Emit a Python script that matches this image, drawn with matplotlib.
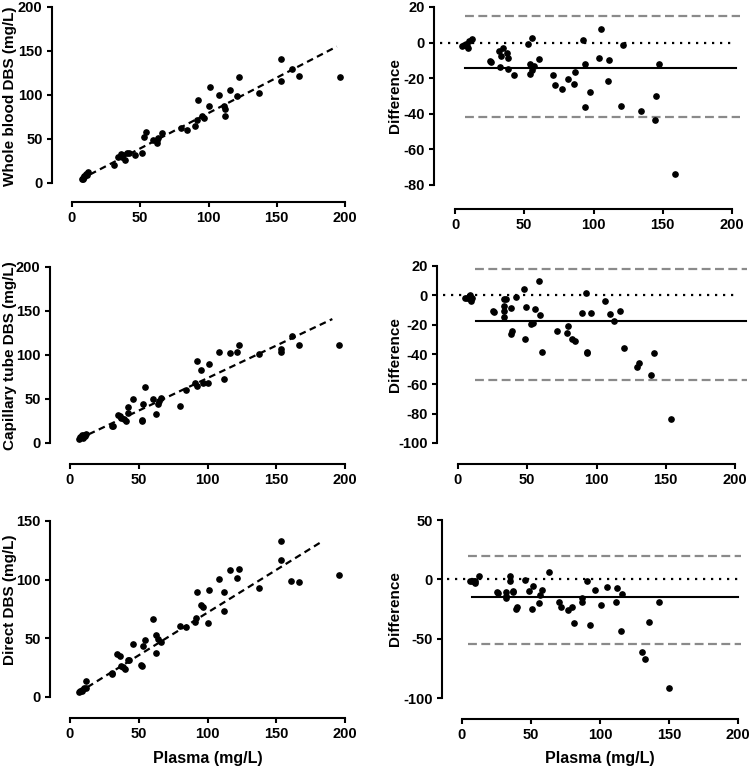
import matplotlib
matplotlib.use('Agg')
import matplotlib.pyplot as plt
import numpy as np

plt.rcParams['font.family'] = ['Liberation Sans', 'DejaVu Sans']
plt.rcParams['font.weight'] = 'bold'
plt.rcParams['axes.unicode_minus'] = False

# ---- row 1: whole blood DBS ----
wb_x = [7, 8, 9, 10, 11, 12, 9, 8, 31, 34, 35.6, 36.4, 37.6, 39, 40, 42, 46, 51, 53, 54.5,
        59.6, 62, 62.5, 63, 66, 80, 84, 90.4, 91.3, 92, 95, 96.7, 100, 101.3, 108, 111, 112,
        112.3, 115.8, 121, 122, 137, 153, 153.4, 161, 166, 196]
wb_y = [5, 6, 8, 10, 9, 13, 7, 5, 20, 29.5, 32.6, 29.5, 31.4, 25.8, 34, 34, 32, 34, 52.6, 58,
        49, 48.5, 45.5, 51, 57, 62.5, 60.6, 64.8, 72, 94, 75.8, 74, 88, 109, 100, 87, 83.7,
        76, 106, 98.5, 121, 102, 141, 115.5, 130, 122, 121]
wb_fit = (6, 194, 0.804, -0.9)  # x start, x end, slope, intercept

wb_mean = [5.3, 6.7, 7.7, 8.4, 9.1, 10.1, 12, 25.2, 26, 31.7, 32.2, 33.2, 34.9, 37.3, 38, 38.5,
           42.5, 52.9, 53.8, 54, 55.8, 55.3, 57.2, 61, 70.9, 72.1, 77.4, 81.3, 85.6, 86.8, 92.5,
           93.8, 94.2, 97.8, 103.8, 105.3, 110.3, 111, 119.5, 121.6, 134, 144.2, 145.4, 147, 158.7]
wb_diff = [-1.9, -1.5, -0.9, -1.9, -3.2, 1.1, 1.9, -10.3, -10.9, -4.5, -13.9, -7.5, -2.8, -6,
           -8.8, -14.8, -18, -0.9, -17.6, -12, 2.8, -15.4, -13.1, -9.2, -18.4, -23.8, -25.8,
           -20.6, -23, -16.7, 1.7, -12.2, -36, -27.9, -8.6, 7.5, -21.7, -9.9, -35.6, -1.5,
           -38.2, -43.6, -30.1, -12.2, -74]
wb_bias, wb_upper, wb_lower = -14.0, 15.0, -41.8

# ---- row 2: capillary tube DBS ----
ct_x = [6.3, 7.5, 9, 10, 11, 11.9, 9.5, 30.3, 31.3, 35, 36.2, 37.4, 39, 40.5, 42.2, 42.5, 45.9,
        52, 52, 53.2, 54.6, 60.4, 62.9, 63.8, 64.8, 66.3, 80.3, 84.7, 90.8, 92, 92, 95.1, 96.8,
        100, 101.2, 108.3, 112.1, 116, 121.1, 122.6, 137.4, 153.2, 153.4, 161.4, 166.3, 195.9]
ct_y = [4.5, 6.4, 8.7, 9.4, 7.9, 9.8, 5.7, 19.6, 18.9, 32, 31, 28.3, 27.5, 25.3, 34, 40.4, 49.8,
        26.4, 24.5, 44.5, 63.4, 49.8, 32.8, 44.5, 47.2, 51.7, 41.5, 60.4, 67.9, 65.3, 93.2, 83,
        67.9, 68.7, 89.4, 103.4, 73.2, 102.6, 103, 111.3, 101.1, 106.4, 103.8, 121.1, 111.3, 111.7]
ct_fit = (6.3, 190.8, 0.739, -0.15)

ct_mean = [5.3, 6.7, 8, 8.7, 9.6, 10.4, 8.9, 25.3, 25.8, 33, 33.3, 33.5, 33.3, 34.9, 38.1, 38.6,
           39.3, 41.7, 48, 48.2, 49.4, 53, 54.2, 55.4, 59.3, 58.8, 61, 71.8, 78.6, 79.5, 82, 84.3,
           89.2, 92.5, 93, 93, 95.9, 105.8, 109.4, 112.8, 117.1, 119.5, 128.9, 130.6, 139, 141.2, 154]
ct_diff = [-1.5, -1.9, -0.7, -2.5, -3.6, -1.9, 0.4, -10.3, -11.4, -2.6, -6.9, -10.3, -14.4, -2.6,
           -8.3, -26.4, -23.9, -0.7, 4.4, -29.8, -7.6, -19.6, -18.5, -9.3, -13.1, 9.5, -38, -24.3,
           -25.6, -21, -29.4, -30.8, -11.6, 2, -38, -39.1, -11.6, -4, -12.6, -17.1, -10.3, -35.7,
           -48.8, -46.1, -53.8, -39.1, -83.9]
ct_bias, ct_upper, ct_lower = -17.0, 18.2, -57.6

# ---- row 3: direct DBS ----
dd_x = [6.3, 7.5, 8.5, 10, 11.4, 11.9, 9, 30.3, 30.8, 34.2, 36.2, 37.4, 38.6, 40, 42.2, 43, 45.9,
        51.5, 52, 53.2, 54.6, 60, 62.9, 62.9, 63.8, 66.3, 80.3, 84.7, 90.8, 91.5, 92, 95.1, 96.8,
        100, 101.2, 108.3, 111.9, 112.1, 116, 121.1, 122.6, 137.4, 153.2, 153.4, 160.9, 166.3, 195.9]
dd_y = [4.3, 5.1, 6.2, 7.4, 7.7, 13.3, 5.5, 19.6, 20.4, 36.6, 34.6, 26.1, 25.5, 23.8, 31.8, 31.2,
        44.8, 27.5, 26.1, 43.1, 48.2, 66.1, 37.4, 53, 49.3, 46.5, 60.7, 59.5, 63.8, 67.2, 89.3,
        78.8, 77.1, 62.9, 91.6, 100.9, 89.6, 73.4, 108.3, 101.8, 108.9, 93, 133, 116.8, 98.7,
        98.4, 103.8]
dd_fit = (5.8, 184.2, 0.7276, -0.82)

dd_mean = [6, 7.2, 8.4, 9.6, 9.2, 12.5, 25.3, 25.8, 31.8, 32, 32, 34.9, 34.9, 36.6, 37.3, 39,
           39.8, 45.5, 48.2, 50.6, 51.3, 55.9, 56.6, 58.3, 63.1, 70.6, 71.8, 76.6, 80, 81.4, 87,
           87.2, 90.4, 93, 96.4, 101, 104.8, 111.8, 112.3, 115.2, 115.7, 130.1, 132.3, 135.2,
           143.1, 149.9]
dd_diff = [-1.2, -1.5, -1.2, -2.9, -1.2, 2.7, -10.5, -11.1, -10.5, -14.1, -16.1, 2.7, -1.5,
           -10.3, -9.7, -25.4, -23.2, -0.4, -10, -24.6, -5.7, -19.6, -13.4, -9.2, 6.6, -19,
           -23.5, -26, -23.2, -36.4, -15.6, -19.3, -1.5, -38.1, -9.2, -21.6, -6.4, -18.8, -7,
           -43.5, -12.6, -61.2, -66.8, -35.8, -19.3, -91.3]
dd_bias, dd_upper, dd_lower = -15.3, 19.8, -54.1

ylabels = ['Whole blood DBS (mg/L)', 'Capillary tube DBS (mg/L)', 'Direct DBS (mg/L)']
scatter_ylim = [(0, 200), (0, 200), (0, 150)]
scatter_yticks = [[0, 50, 100, 150, 200], [0, 50, 100, 150, 200], [0, 50, 100, 150]]
ba_ylim = [(-80, 20), (-100, 20), (-100, 50)]
ba_yticks = [[-80, -60, -40, -20, 0, 20], [-100, -80, -60, -40, -20, 0, 20], [-100, -50, 0, 50]]
xticks = [0, 50, 100, 150, 200]

# pixel boxes (left, right, top, bottom) of the data area and spine offsets
W, H = 750, 773
left_boxes = [(72, 345, 7, 183), (70, 345, 267, 443), (70, 345, 521, 697)]
right_boxes = [(455, 732, 7, 185), (458, 735, 266, 443), (462, 738, 520, 698)]
left_off = [(20, 19), (20, 21), (20, 21)]
right_off = [(21, 24), (21, 21), (20, 21)]
line_x = [(7, 206, 7, 203), (12, 209, 13, 208), (4, 202, 7, 200)]  # dashed, solid extents
ylabel_center = [96, 356, 600]

fig = plt.figure(figsize=(W / 100, H / 100), dpi=100)


def make_axes(box, off):
    l, r, t, b = box
    ax = fig.add_axes([l / W, 1 - b / H, (r - l) / W, (b - t) / H])
    ax.spines['top'].set_visible(False)
    ax.spines['right'].set_visible(False)
    ax.spines['left'].set_position(('outward', off[0] * 0.72))
    ax.spines['bottom'].set_position(('outward', off[1] * 0.72))
    for s in ['left', 'bottom']:
        ax.spines[s].set_linewidth(1.5)
    ax.tick_params(width=1.5, length=3.8, labelsize=10.5, pad=3)
    ax.patch.set_alpha(0)
    return ax


scat = [(wb_x, wb_y, wb_fit), (ct_x, ct_y, ct_fit), (dd_x, dd_y, dd_fit)]
ba = [(wb_mean, wb_diff, wb_bias, wb_upper, wb_lower),
      (ct_mean, ct_diff, ct_bias, ct_upper, ct_lower),
      (dd_mean, dd_diff, dd_bias, dd_upper, dd_lower)]

for i in range(3):
    # left: method comparison
    ax = make_axes(left_boxes[i], left_off[i])
    x, y, fit = scat[i]
    ax.plot(x, y, 'o', color='black', ms=3.8, clip_on=False)
    fx = np.array([fit[0], fit[1]])
    ax.plot(fx, fit[2] * fx + fit[3], color='black', lw=1.6, dashes=(3, 2), clip_on=False)
    ax.set_xlim(0, 200)
    ax.set_ylim(*scatter_ylim[i])
    ax.set_xticks(xticks)
    ax.set_yticks(scatter_yticks[i])
    ax.set_ylabel(ylabels[i], fontsize=11, fontweight='bold')
    l, r, t, b = left_boxes[i]
    ax.yaxis.set_label_coords((17 - l) / (r - l), (b - ylabel_center[i]) / (b - t))
    if i == 2:
        ax.set_xlabel('Plasma (mg/L)', fontsize=11.5, fontweight='bold')
        ax.xaxis.set_label_coords(0.5, -(751 - b) / (b - t))

    # right: Bland-Altman
    ax = make_axes(right_boxes[i], right_off[i])
    m, d, bias, up, lo = ba[i]
    dx0, dx1, sx0, sx1 = line_x[i]
    ax.plot([dx0, dx1], [up, up], color='#8a8a8a', lw=1.6, dashes=(4, 2), clip_on=False)
    ax.plot([dx0, dx1], [lo, lo], color='#8a8a8a', lw=1.6, dashes=(4, 2), clip_on=False)
    ax.plot([-11, 200], [0, 0], color='black', lw=1.6, dashes=(1, 2.6), clip_on=False)
    ax.plot([sx0, sx1], [bias, bias], color='black', lw=1.5, clip_on=False)
    ax.plot(m, d, 'o', color='black', ms=3.8, clip_on=False)
    ax.set_xlim(0, 200)
    ax.set_ylim(*ba_ylim[i])
    ax.set_xticks(xticks)
    ax.set_yticks(ba_yticks[i])
    ax.set_ylabel('Difference', fontsize=11, fontweight='bold')
    l, r, t, b = right_boxes[i]
    ax.yaxis.set_label_coords((402 - l) / (r - l), 0.5)
    if i == 2:
        ax.set_xlabel('Plasma (mg/L)', fontsize=11.5, fontweight='bold')
        ax.xaxis.set_label_coords(0.5, -(751 - b) / (b - t))

fig.savefig('out.png', dpi=100)
